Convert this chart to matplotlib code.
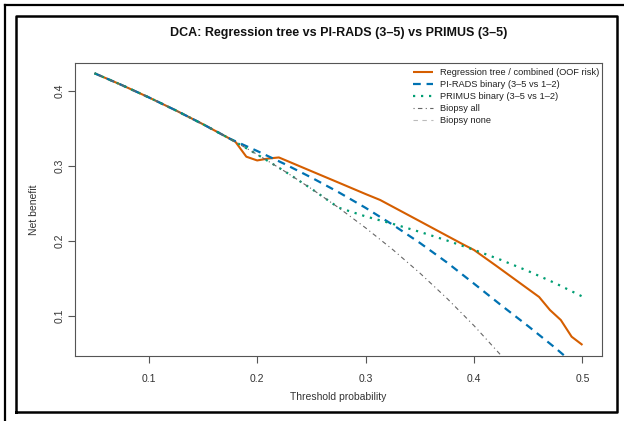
import matplotlib
matplotlib.use('Agg')
import matplotlib.pyplot as plt
from matplotlib.lines import Line2D

plt.rcParams['font.family'] = ['Liberation Sans', 'DejaVu Sans']

# ---- data ----
thr_all = [0.05, 0.075, 0.1, 0.125, 0.15, 0.175, 0.2, 0.225, 0.25, 0.275, 0.3,
           0.325, 0.35, 0.375, 0.4, 0.425, 0.45, 0.475, 0.5]
nb_all = [0.4232, 0.4076, 0.3911, 0.3737, 0.3553, 0.3358, 0.3150, 0.2929, 0.2693,
          0.2441, 0.2171, 0.1882, 0.1569, 0.1232, 0.0867, 0.0470, 0.0036, -0.0438, -0.0960]

thr_tree = [0.05, 0.075, 0.1, 0.125, 0.15, 0.175, 0.18, 0.19, 0.2, 0.21, 0.22, 0.25,
            0.275, 0.3, 0.3134, 0.35, 0.375, 0.39, 0.4, 0.42, 0.44, 0.46, 0.47, 0.48,
            0.49, 0.5]
nb_tree = [0.4232, 0.4076, 0.3911, 0.3737, 0.3553, 0.3358, 0.3317, 0.3120, 0.3070,
           0.3095, 0.3110, 0.2927, 0.2775, 0.2622, 0.2543, 0.2260, 0.2066, 0.1950,
           0.1876, 0.1670, 0.1460, 0.1250, 0.1076, 0.0943, 0.0720, 0.0610]

thr_pirads = [0.05, 0.075, 0.1, 0.125, 0.15, 0.175, 0.2, 0.225, 0.25, 0.275, 0.3,
              0.325, 0.35, 0.375, 0.4, 0.425, 0.45, 0.475, 0.5]
nb_pirads = [0.4232, 0.4076, 0.3911, 0.3737, 0.3553, 0.3358, 0.3196, 0.3025, 0.2842,
             0.2647, 0.2438, 0.2213, 0.1971, 0.1710, 0.1427, 0.1140, 0.0860, 0.0570, 0.0260]

thr_primus = [0.05, 0.075, 0.1, 0.125, 0.15, 0.175, 0.2, 0.225, 0.25, 0.275, 0.3,
              0.325, 0.35, 0.375, 0.4, 0.425, 0.45, 0.475, 0.5]
nb_primus = [0.4232, 0.4076, 0.3911, 0.3737, 0.3553, 0.3358, 0.3150, 0.2929, 0.2693,
             0.2441, 0.2324, 0.2225, 0.2118, 0.2003, 0.1878, 0.1743, 0.1595, 0.1433, 0.1255]

thr_none = [0.05, 0.5]
nb_none = [0.0, 0.0]

labels = ["Regression tree / combined (OOF risk)",
          "PI-RADS binary (3\u20135 vs 1\u20132)",
          "PRIMUS binary (3\u20135 vs 1\u20132)",
          "Biopsy all",
          "Biopsy none"]
xticks = [0.1, 0.2, 0.3, 0.4, 0.5]
yticks = [0.1, 0.2, 0.3, 0.4]

# ---- figure ----
W, H = 624, 421
fig = plt.figure(figsize=(W / 100, H / 100), dpi=100)
fig.patch.set_facecolor('white')

def px2fig(x, y):
    return x / W, 1 - y / H

# outer frame lines
fig.add_artist(Line2D([5 / W, 5 / W], [0, 1 - 5 / H], color='black', lw=1.6))
fig.add_artist(Line2D([5 / W, 1], [1 - 5 / H, 1 - 5 / H], color='black', lw=1.6))
x0, y0 = px2fig(16, 412)
x1, y1 = px2fig(617, 16)
fig.add_artist(Line2D([x0, x1, x1, x0, x0], [y0, y0, y1, y1, y0], color='black', lw=1.8))

L, R, T, B = 75, 602, 63, 356
ax = fig.add_axes([L / W, 1 - B / H, (R - L) / W, (B - T) / H])

c_tree = '#D55E00'
c_pirads = '#0072B2'
c_primus = '#009E73'

ax.plot(thr_tree, nb_tree, color=c_tree, lw=1.5, solid_capstyle='butt', label=labels[0])
ax.plot(thr_pirads, nb_pirads, color=c_pirads, lw=1.6, dashes=(3.5, 2.6), label=labels[1])
ax.plot(thr_primus, nb_primus, color=c_primus, lw=1.6, dashes=(1.0, 2.6), label=labels[2])
ax.plot(thr_all, nb_all, color='#666666', lw=0.8, dashes=(1, 3, 4, 3), label=labels[3])
ax.plot(thr_none, nb_none, color='#BBBBBB', lw=0.8, dashes=(4, 4), label=labels[4])

ax.set_xlim(0.032, 0.518)
ax.set_ylim(0.0463, 0.4369)
ax.set_xticks(xticks)
ax.set_yticks(yticks)
ax.set_xticklabels([f"{v:.1f}" for v in xticks])
ax.set_yticklabels([f"{v:.1f}" for v in yticks], rotation=90, va='center')
ax.tick_params(direction='out', length=5, width=0.8, colors='#555555',
               labelcolor='#333333', labelsize=7.5)
ax.tick_params(axis='x', pad=8)
ax.tick_params(axis='y', pad=2.5)
for s in ax.spines.values():
    s.set_color('#555555')
    s.set_linewidth(0.8)

ax.set_xlabel("Threshold probability", fontsize=7.5, color='#333333', labelpad=5.5)
ax.set_ylabel("Net benefit", fontsize=7.5, color='#333333', labelpad=11)

fig.text(338.5 / W, 1 - 33 / H, "DCA: Regression tree vs PI-RADS (3\u20135) vs PRIMUS (3\u20135)",
         ha='center', va='center', fontsize=9, fontweight='bold', color='#111111')

leg = ax.legend(loc='upper left', bbox_to_anchor=((413 - L) / (R - L), (B - 68) / (B - T)),
                frameon=False, fontsize=6.7, handlelength=2.1, handletextpad=0.75,
                labelspacing=0.32, borderpad=0, borderaxespad=0)
for t in leg.get_texts():
    t.set_color('#222222')

fig.savefig('out.png', dpi=100)
